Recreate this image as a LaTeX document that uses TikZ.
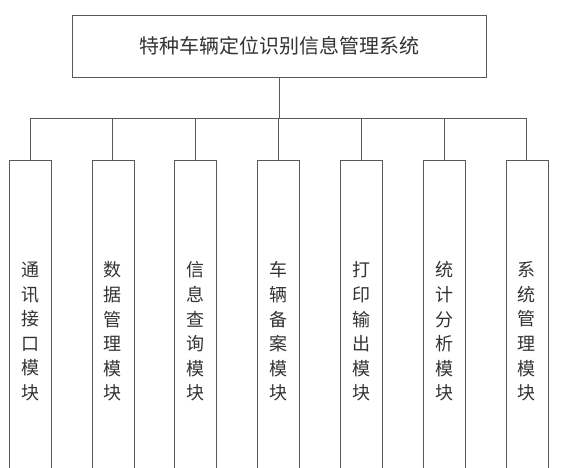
\documentclass[tikz,border=0pt]{standalone}
\usepackage{fontspec}
\newfontfamily\cjk{Noto Sans CJK SC}
\usepackage{tikz}

\begin{document}
\begin{tikzpicture}[
            x=1pt, y=-1pt,                % 按像素定位
            node distance=82.8pt,         % 模块间距
            every node/.style={
                draw=black!65,
                text=black!80,
                inner sep=0pt
            },
            title/.style={
                minimum width=414pt,
                minimum height=62pt,
                font=\cjk\fontsize{20}{24}\selectfont
            },
            module/.style={
                minimum width=42pt,
                minimum height=343pt,
                align=center,
                font=\cjk\fontsize{18}{24.6}\selectfont
            },
            line/.style={draw=black!65, line width=1pt}
        ]
            \useasboundingbox (0,0) rectangle (561,467);
            \clip (0,0) rectangle (561,467);   % 下边框在图外

            % 节点
            \node[title] (top) at (279,46) {特种车辆定位识别信息管理系统};
            \coordinate (bus) at (279,118);
            \node[module] (m1) at (30,331.5) {通\\讯\\接\\口\\模\\块};
            \node[module] (m2) [right of=m1] {数\\据\\管\\理\\模\\块};
            \node[module] (m3) [right of=m2] {信\\息\\查\\询\\模\\块};
            \node[module] (m4) [right of=m3] {车\\辆\\备\\案\\模\\块};
            \node[module] (m5) [right of=m4] {打\\印\\输\\出\\模\\块};
            \node[module] (m6) [right of=m5] {统\\计\\分\\析\\模\\块};
            \node[module] (m7) [right of=m6] {系\\统\\管\\理\\模\\块};

            % 边
            \draw[line] (top) -- (bus);
            \foreach \i in {1,...,7}
                \draw[line] (m\i.north) |- (bus);
        \end{tikzpicture}
\end{document}
